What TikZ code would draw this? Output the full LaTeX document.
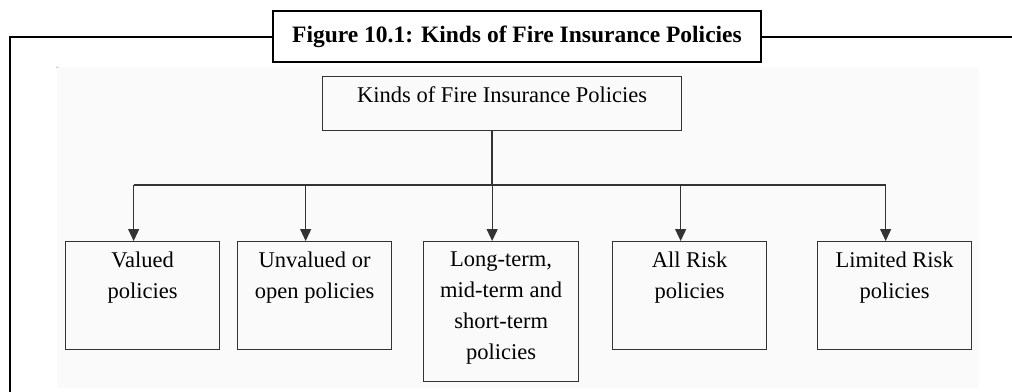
\documentclass[tikz,border=0pt]{standalone}
\usepackage{fontspec}
\setmainfont{Liberation Serif}
\usetikzlibrary{arrows.meta}
\definecolor{lineg}{HTML}{333333}
\definecolor{bgg}{HTML}{FAFAFA}
\tikzset{
  frameline/.style={line width=2.8pt, draw=black},
  titlebox/.style={draw=black, line width=2.5pt, fill=white, inner sep=0pt, minimum width=488pt, minimum height=51pt, font=\fontsize{23.5}{28}\selectfont\bfseries},
  pbox/.style={draw=lineg, line width=1.3pt, inner sep=0pt, minimum width=154pt, minimum height=108pt, anchor=north west},
  ptext/.style={inner sep=0pt, anchor=north, align=center, font=\fontsize{22.5}{31}\selectfont},
  conn/.style={draw=lineg, line width=1.2pt},
  arr/.style={conn, -{Triangle[length=12pt,width=11pt]}}
}
\begin{document}
\begin{tikzpicture}[x=1pt,y=-1pt]
\useasboundingbox (0,0) rectangle (1012,391);
% faint background
\fill[bgg] (57,67) rectangle (979,388);
\fill[black] (57,67) circle (0.5pt);
% outer frame
\draw[frameline] (1013,37) -- (10,37) -- (10,392);
\node[titlebox] (title) at (517,36.5) {Figure 10.1: Kinds of Fire Insurance Policies};
% top node
\node[pbox, minimum width=359pt, minimum height=54pt] (top) at (322,76) {};
\node[ptext] (toplabel) at ([yshift=-10pt]top.north) {Kinds of Fire Insurance Policies};
% child boxes
\node[pbox] (b1) at (65,241) {};
\node[pbox] (b2) at (237,241) {};
\node[pbox, minimum width=155pt, minimum height=140pt] (b3) at (423,241) {};
\node[pbox] (b4) at (612,241) {};
\node[pbox] (b5) at (817,241) {};
\node[ptext] (t1) at ([yshift=-11pt]b1.north) {Valued\\policies};
\node[ptext] (t2) at ([yshift=-11pt]b2.north) {Unvalued or\\open policies};
\node[ptext] (t3) at ([yshift=-11pt]b3.north) {Long-term,\\mid-term and\\short-term\\policies};
\node[ptext] (t4) at ([yshift=-11pt]b4.north) {All Risk\\policies};
\node[ptext] (t5) at ([yshift=-11pt]b5.north) {Limited Risk\\policies};
% connectors
\coordinate (bus) at (492,185);
\draw[conn] (top.south -| bus) -- (bus);
\draw[conn] ([xshift=-9pt]b1.north |- bus) -- ([xshift=-9pt]b5.north |- bus);
\foreach \b in {b1,b2,b3,b4,b5}{
  \draw[arr] ([xshift=-9pt]\b.north |- bus) -- ([xshift=-9pt]\b.north);
}
\end{tikzpicture}
\end{document}
